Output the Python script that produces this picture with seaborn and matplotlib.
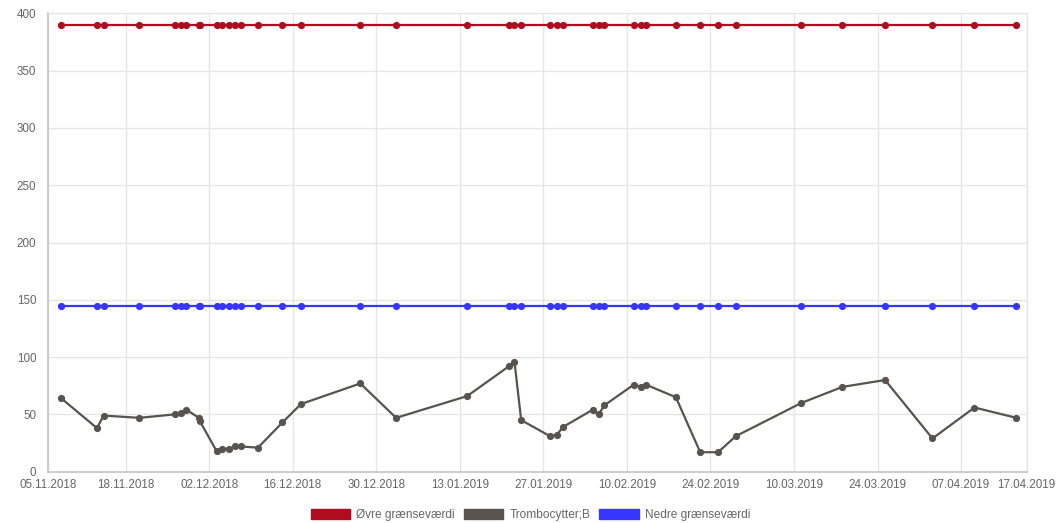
import matplotlib
matplotlib.use('Agg')
import matplotlib.pyplot as plt
from matplotlib.patches import Patch
import seaborn as sns
import pandas as pd

# ---------------- data ----------------
dates = [
    '2018-11-07 05:30', '2018-11-13 05:00', '2018-11-14 07:30', '2018-11-20 07:00',
    '2018-11-26 05:00', '2018-11-27 08:00', '2018-11-28 05:00', '2018-11-30 07:00',
    '2018-11-30 11:00', '2018-12-03 06:00', '2018-12-04 05:00', '2018-12-05 08:00',
    '2018-12-06 08:00', '2018-12-07 06:30', '2018-12-10 04:30', '2018-12-14 07:00',
    '2018-12-17 09:00', '2018-12-27 08:00', '2019-01-02 08:00', '2019-01-14 06:00',
    '2019-01-21 05:30', '2019-01-22 04:00', '2019-01-23 07:00', '2019-01-28 03:00',
    '2019-01-29 06:00', '2019-01-30 07:00', '2019-02-04 06:00', '2019-02-05 06:00',
    '2019-02-06 06:00', '2019-02-11 04:00', '2019-02-12 07:00', '2019-02-13 04:00',
    '2019-02-18 05:00', '2019-02-22 07:00', '2019-02-25 07:00', '2019-02-28 06:00',
    '2019-03-11 06:00', '2019-03-18 03:00', '2019-03-25 06:30', '2019-04-02 05:00',
    '2019-04-09 06:00', '2019-04-16 06:30',
]
trombocytter = [
    64, 38, 49, 47, 50, 51, 54, 47, 44, 18, 20, 20, 22, 22, 21, 43, 59, 77, 47, 66,
    92, 96, 45, 31, 32, 39, 54, 50, 58, 76, 74, 76, 65, 17, 17, 31, 60, 74, 80, 29,
    56, 47,
]
upper_limit = [390] * len(dates)
lower_limit = [145] * len(dates)

series_names = ['Øvre grænseværdi', 'Trombocytter;B', 'Nedre grænseværdi']
series_colors = ['#b00c1f', '#58534e', '#3636ff']

tick_dates = ['2018-11-05', '2018-11-18', '2018-12-02', '2018-12-16', '2018-12-30',
              '2019-01-13', '2019-01-27', '2019-02-10', '2019-02-24', '2019-03-10',
              '2019-03-24', '2019-04-07', '2019-04-18']
tick_labels = ['05.11.2018', '18.11.2018', '02.12.2018', '16.12.2018', '30.12.2018',
               '13.01.2019', '27.01.2019', '10.02.2019', '24.02.2019', '10.03.2019',
               '24.03.2019', '07.04.2019', '17.04.2019']
y_ticks = [0, 50, 100, 150, 200, 250, 300, 350, 400]

# ---------------- table ----------------
df = pd.DataFrame({
    'date': pd.to_datetime(dates * 3),
    'value': upper_limit + trombocytter + lower_limit,
    'series': [series_names[0]] * len(dates) + [series_names[1]] * len(dates)
              + [series_names[2]] * len(dates),
})

sns.set_style('white')
plt.rcParams['font.family'] = ['Liberation Sans', 'DejaVu Sans']

W, H = 1061, 523
fig = plt.figure(figsize=(W / 100, H / 100), dpi=100)
left, right, top, bottom = 48, 1026.7, 13.3, 471.7
ax = fig.add_axes([left / W, 1 - bottom / H, (right - left) / W, (bottom - top) / H])

sns.lineplot(data=df, x='date', y='value', hue='series', hue_order=series_names,
             palette=series_colors, marker='o', markersize=5.2, markeredgewidth=0,
             linewidth=1.6, estimator=None, sort=False, legend=False, ax=ax)

tick_ts = pd.to_datetime(tick_dates)
ax.set_xlim(tick_ts[0], tick_ts[-1])
ax.set_ylim(0, 400)
ax.set_xticks(tick_ts)
ax.set_xticklabels(tick_labels)
ax.set_yticks(y_ticks)
ax.set_xlabel('')
ax.set_ylabel('')

grid_c = '#e6e6e6'
ax.grid(True, color=grid_c, linewidth=1)
ax.set_axisbelow(True)
for s in ['top', 'right']:
    ax.spines[s].set_color(grid_c)
    ax.spines[s].set_linewidth(1)
for s in ['left', 'bottom']:
    ax.spines[s].set_color('#c4c4c4')
    ax.spines[s].set_linewidth(1.2)

ax.tick_params(axis='y', length=7, width=1, color=grid_c, pad=1.5,
               labelsize=8.4, labelcolor='#666666')
ax.tick_params(axis='x', length=0, pad=5.5, labelsize=8.4, labelcolor='#666666')

handles = [Patch(facecolor=c, edgecolor=c) for c in series_colors]
fig.legend(handles, series_names, loc='center', bbox_to_anchor=(0.5, 1 - 514.8 / H),
           ncol=3, frameon=False, fontsize=8.6, handlelength=3.3, handleheight=1.0,
           handletextpad=0.5, columnspacing=0.75, borderpad=0, labelcolor='#666666')

fig.savefig('out.png', dpi=100)
